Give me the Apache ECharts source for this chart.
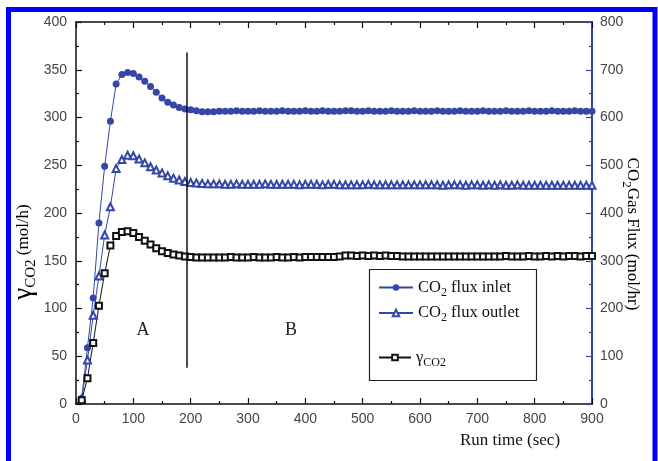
<!DOCTYPE html>
<html>
<head>
<meta charset="utf-8">
<script src="https://cdn.jsdelivr.net/npm/echarts@6/dist/echarts.min.js"></script>
<style>
  html, body { margin: 0; padding: 0; background: #fff; }
  #chart { width: 658px; height: 461px; }
</style>
</head>
<body>
<div id="chart"></div>
<script>
// Sampling times (sec)
var runTime = [10,20,30,40,50,60,70,80,90,100,110,120,130,140,150,160,170,180,190,200,
  210,220,230,240,250,260,270,280,290,300,310,320,330,340,350,360,370,380,390,400,
  410,420,430,440,450,460,470,480,490,500,510,520,530,540,550,560,570,580,590,600,
  610,620,630,640,650,660,670,680,690,700,710,720,730,740,750,760,770,780,790,800,
  810,820,830,840,850,860,870,880,890,900];

// CO2 gas flux at the inlet (mol/hr), right axis
var fluxInlet = [12,118,222,379,498,592,670,690,694,692,685,676,665,653,641,632,626,621,618,616,
  614,612,612,612,613,613,613,614,613,613,613,614,613,613,613,614,613,613,613,614,
  613,613,614,613,613,613,614,614,613,613,614,613,613,613,614,613,613,613,614,613,
  613,613,614,613,613,613,614,613,613,613,614,613,613,613,614,613,613,613,614,613,
  613,613,614,613,613,613,614,613,613,613];

// CO2 gas flux at the outlet (mol/hr), right axis
var fluxOutlet = [10,92,186,268,354,413,493,512,521,520,513,505,497,490,484,478,473,469,466,464,
  463,462,461,461,461,460,460,461,460,460,460,460,461,460,460,460,460,460,459,460,
  460,460,459,460,460,459,459,459,459,459,460,459,459,459,459,459,459,459,459,459,
  459,459,459,458,459,459,459,458,459,459,458,459,458,459,458,458,459,458,458,458,
  458,458,458,458,458,458,458,458,458,458];

// Absorption rate gamma_CO2 (mol/h), left axis
var gammaCO2 = [4,27,64,103,137,166,176,180,181,179,175,171,167,163,160,158,156.5,155.5,154.5,154,
  153.5,153.5,153.5,153.5,153.5,153.5,154,153.5,153.5,153.5,154,153.5,153.5,153.5,154,153.5,153.5,154,153.5,154,
  154,154,154,154,154,154.5,155.5,155.5,155,155.5,155,155.5,155,155.5,155,155,154.5,154.5,154.5,154.5,
  154.5,154.5,154.5,154.5,154.5,154.5,154.5,154.5,154.5,154.5,154.5,154.5,154.5,154.5,155,154.5,154.5,154.5,155,154.5,
  154.5,155,154.5,155,154.5,155,155,154.5,155,155];

// Boundary between regions A and B
var dividerTime = 193;
var dividerSpan = [38, 368];
var regionLabels = ['A', 'B'];
var regionLabelPos = [[117, 77], [375, 77]];

var xTicks = { min: 0, max: 900, interval: 100 };
var leftTicks = { min: 0, max: 400, interval: 50 };
var rightTicks = { min: 0, max: 800, interval: 100 };

var names = ['CO2 flux inlet', 'CO2 flux outlet', '\u03b3CO2'];

function pairs(xs, ys) {
  return xs.map(function (x, i) { return [x, ys[i]]; });
}

var blue = '#3547a6';
var serif = '"Liberation Serif", "DejaVu Serif", serif';
var sans = '"Liberation Sans", Arial, sans-serif';

var legendRich = {
  t: { fontFamily: serif, fontSize: 16.5, color: '#111', lineHeight: 22 },
  s: { fontFamily: serif, fontSize: 12, color: '#111', lineHeight: 12, verticalAlign: 'bottom' }
};
function legendFmt(name) {
  if (name === names[0]) return '{t|CO}{s|2}{t| flux inlet}';
  if (name === names[1]) return '{t|CO}{s|2}{t| flux outlet}';
  return '{t|\u03b3}{s|CO2}';
}

var chart = echarts.init(document.getElementById('chart'), null, { renderer: 'canvas' });

var axisLabelStyle = { fontFamily: sans, fontSize: 14, color: '#444' };

var option = {
  animation: false,
  backgroundColor: '#fff',
  grid: { left: 76, right: 66, top: 22, bottom: 57, containLabel: false },
  xAxis: [
    {
      type: 'value', min: xTicks.min, max: xTicks.max, interval: xTicks.interval,
      position: 'bottom',
      axisLine: { onZero: false, lineStyle: { color: '#111', width: 1.5 } },
      axisTick: { inside: true, length: 6, lineStyle: { color: '#111', width: 1.2 } },
      minorTick: { show: true, splitNumber: 2, length: 3, lineStyle: { color: '#111', width: 1.2 } },
      axisLabel: Object.assign({ margin: 8 }, axisLabelStyle),
      splitLine: { show: false }
    },
    {
      type: 'value', min: xTicks.min, max: xTicks.max, interval: xTicks.interval,
      position: 'top',
      axisLine: { onZero: false, lineStyle: { color: '#111', width: 1.5 } },
      axisTick: { inside: true, length: 6, lineStyle: { color: '#111', width: 1.2 } },
      minorTick: { show: true, splitNumber: 2, length: 3, lineStyle: { color: '#111', width: 1.2 } },
      axisLabel: { show: false },
      splitLine: { show: false }
    }
  ],
  yAxis: [
    {
      type: 'value', min: leftTicks.min, max: leftTicks.max, interval: leftTicks.interval,
      position: 'left',
      axisLine: { show: true, onZero: false, lineStyle: { color: '#111', width: 1.5 } },
      axisTick: { show: true, inside: true, length: 6, lineStyle: { color: '#111', width: 1.2 } },
      minorTick: { show: true, splitNumber: 2, length: 3, lineStyle: { color: '#111', width: 1.2 } },
      axisLabel: Object.assign({ margin: 9 }, axisLabelStyle),
      splitLine: { show: false }
    },
    {
      type: 'value', min: rightTicks.min, max: rightTicks.max, interval: rightTicks.interval,
      position: 'right',
      axisLine: { show: true, onZero: false, lineStyle: { color: blue, width: 2 } },
      axisTick: { show: true, inside: true, length: 6, lineStyle: { color: blue, width: 1.2 } },
      minorTick: { show: true, splitNumber: 2, length: 3, lineStyle: { color: blue, width: 1.2 } },
      axisLabel: Object.assign({ margin: 8 }, axisLabelStyle),
      splitLine: { show: false }
    }
  ],
  legend: [
    {
      data: [names[0], names[1]],
      orient: 'vertical', left: 373, top: 274, itemGap: 6,
      itemWidth: 34, itemHeight: 8,
      formatter: legendFmt,
      textStyle: { rich: legendRich },
      selectedMode: false
    },
    {
      data: [names[2]],
      orient: 'vertical', left: 373, top: 344,
      itemWidth: 32, itemHeight: 7,
      formatter: legendFmt,
      textStyle: { rich: legendRich },
      selectedMode: false
    }
  ],
  series: [
    {
      name: names[0], type: 'line', xAxisIndex: 0, yAxisIndex: 1,
      data: pairs(runTime, fluxInlet),
      symbol: 'circle', symbolSize: 7,
      itemStyle: { color: blue },
      lineStyle: { color: blue, width: 1 },
      z: 3
    },
    {
      name: names[1], type: 'line', xAxisIndex: 0, yAxisIndex: 1,
      data: pairs(runTime, fluxOutlet),
      symbol: 'emptyTriangle', symbolSize: 7,
      itemStyle: { color: blue, borderWidth: 1 },
      lineStyle: { color: blue, width: 1 },
      z: 3
    },
    {
      name: names[2], type: 'line', xAxisIndex: 0, yAxisIndex: 0,
      data: pairs(runTime, gammaCO2),
      symbol: 'emptyRect', symbolSize: 6,
      itemStyle: { color: '#111', borderWidth: 1 },
      lineStyle: { color: '#111', width: 1 },
      z: 3,
      markLine: {
        silent: true, symbol: 'none', animation: false,
        label: { show: false },
        lineStyle: { color: '#111', width: 1.5, type: 'solid' },
        data: [[{ coord: [dividerTime, dividerSpan[0]] }, { coord: [dividerTime, dividerSpan[1]] }]]
      },
      markPoint: {
        silent: true, symbol: 'circle', symbolSize: 0,
        label: {
          show: true, position: 'inside',
          fontFamily: serif, fontSize: 18, color: '#222',
          formatter: function (p) { return p.name; }
        },
        data: regionLabels.map(function (n, i) {
          return { name: n, coord: regionLabelPos[i] };
        })
      }
    }
  ],
  graphic: [
    // legend frame
    { type: 'rect', shape: { x: 369.5, y: 269.5, width: 167, height: 111 },
      style: { fill: 'none', stroke: '#222', lineWidth: 1.2 }, z: 1 },
    // left axis title
    { type: 'text', x: 24, y: 252, rotation: Math.PI / 2,
      style: {
        text: '{g|\u03b3}{s|CO2}{t| (mol/h)}',
        align: 'center', verticalAlign: 'middle',
        rich: {
          g: { fontFamily: serif, fontSize: 27, color: '#111', lineHeight: 30 },
          s: { fontFamily: serif, fontSize: 15, color: '#111', lineHeight: 16, verticalAlign: 'bottom' },
          t: { fontFamily: serif, fontSize: 17, color: '#111', lineHeight: 30 }
        }
      } },
    // right axis title
    { type: 'text', x: 632, y: 234, rotation: -Math.PI / 2,
      style: {
        text: '{t|CO}{s|2}{t|Gas Flux (mol/hr)}',
        align: 'center', verticalAlign: 'middle',
        rich: {
          t: { fontFamily: serif, fontSize: 17, color: blue, lineHeight: 24 },
          s: { fontFamily: serif, fontSize: 13, color: blue, lineHeight: 14, verticalAlign: 'bottom' }
        }
      } },
    // x axis title
    { type: 'text', x: 510, y: 441,
      style: { text: 'Run time (sec)', align: 'center', verticalAlign: 'middle',
        fontFamily: serif, fontSize: 17, fill: '#111' } },
    // outer frame
    { type: 'rect', shape: { x: 8.5, y: 9.5, width: 646.5, height: 470 },
      style: { fill: 'none', stroke: '#0000ff', lineWidth: 5 }, z: 10 }
  ]
};

chart.setOption(option);
</script>
</body>
</html>
